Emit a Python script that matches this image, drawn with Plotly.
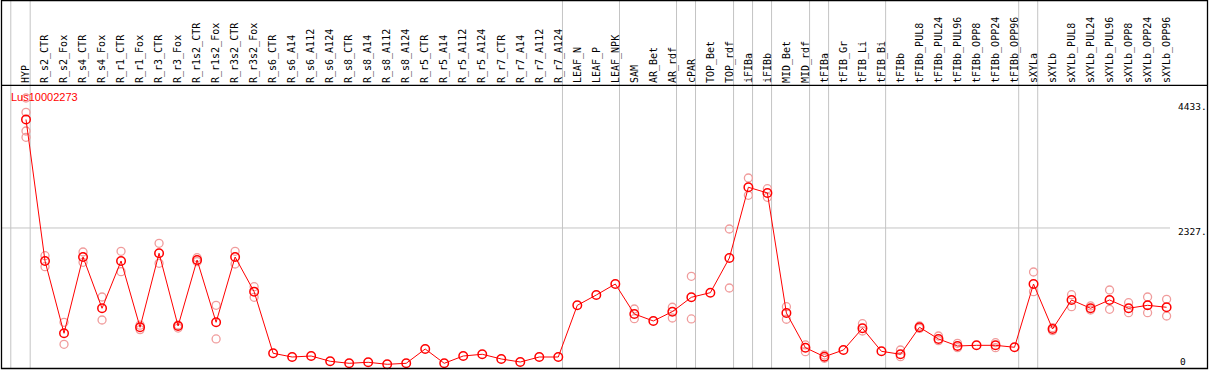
import plotly.graph_objects as go

categories = ["HYP", "R_s2_CTR", "R_s2_Fox", "R_s4_CTR", "R_s4_Fox", "R_r1_CTR", "R_r1_Fox",
              "R_r3_CTR", "R_r3_Fox", "R_r1s2_CTR", "R_r1s2_Fox", "R_r3s2_CTR", "R_r3s2_Fox",
              "R_s6_CTR", "R_s6_A14", "R_s6_A112", "R_s6_A124", "R_s8_CTR", "R_s8_A14", "R_s8_A112",
              "R_s8_A124", "R_r5_CTR", "R_r5_A14", "R_r5_A112", "R_r5_A124", "R_r7_CTR", "R_r7_A14",
              "R_r7_A112", "R_r7_A124", "LEAF_N", "LEAF_P", "LEAF_NPK", "SAM", "AR_Bet", "AR_rdf",
              "cPAR", "TOP_Bet", "TOP_rdf", "iFIBa", "iFIBb", "MID_Bet", "MID_rdf", "tFIBa",
              "tFIB_Gr", "tFIB_Li", "tFIB_Bi", "tFIBb", "tFIBb_PUL8", "tFIBb_PUL24", "tFIBb_PUL96",
              "tFIBb_OPP8", "tFIBb_OPP24", "tFIBb_OPP96", "sXYLa", "sXYLb", "sXYLb_PUL8",
              "sXYLb_PUL24", "sXYLb_PUL96", "sXYLb_OPP8", "sXYLb_OPP24", "sXYLb_OPP96"]

means = [4155, 1771, 553, 1838, 974, 1771, 654, 1901, 676, 1788, 738, 1838, 1254,
         216, 153, 170, 81, 47, 64, 30, 47, 288, 47, 170, 199, 120, 69, 153, 153,
         1024, 1198, 1383, 878, 760, 917, 1159, 1237, 1821,
         3013, 2917, 895, 310, 158, 271, 637, 249,
         199, 654, 457, 339, 350, 350, 317,
         1383, 625, 1114, 974, 1114, 974, 1024, 991]

rep1 = [4517, 1860, 738, 1922, 1164, 1934, 690, 2069, 692, 1826, 1024, 1934, 1338,
        None, None, None, None, None, None, None, None, None, None, None, None, None, None,
        None, None, None, None, None, 962, None, 991, 1513, None, 2310,
        3169, 2989, 1001, 356, 187, None, 714, None,
        271, 676, 507, 384, None, 394, None,
        1585, 647, 1203, 1013, 1282, 1068, 1164, 1125]

rep2 = [3855, 1675, 367, 1749, 777, 1591, 615, 1732, 641, 1759, 457, 1720, 1159,
        None, None, None, None, None, None, None, None, None, None, None, None, None, None,
        None, None, None, None, None, 799, None, 810, 794, None, 1316,
        2878, 2844, 789, 243, 131, None, 591, None,
        158, 634, 428, 310, None, 310, None,
        1254, 596, 1001, 945, 957, 900, 900, 844]

rep3 = [4276] + [None] * 60
rep4 = [3961] + [None] * 60

# group separators: drawn just after these category indices
separators_after = [-1, 0, 28, 31, 34, 35, 37, 38, 39, 41, 42, 45, 52, 53, 60]

y_ticks = [2327, 4433]
y_ticktext = ["2327.", "4433."]
gene = "Lus10002273"

W, H = 1209, 370
ML, MR, MT, MB = 2, 39, 85, 1
PW, PH = W - ML - MR, H - MT - MB


def px_x(q):
    return (q - ML) / PW


def px_y(p):
    return (H - MB - p) / PH


fig = go.Figure()

rep_style = dict(symbol="circle-open", size=8, color="#f09c9c", line=dict(width=1.3))
for reps in (rep1, rep2, rep3, rep4):
    fig.add_trace(go.Scatter(x=categories, y=reps, mode="markers", marker=rep_style,
                             hoverinfo="skip", showlegend=False, cliponaxis=False))

fig.add_trace(go.Scatter(x=categories, y=means, mode="lines+markers",
                         line=dict(color="#ff0000", width=1),
                         marker=dict(symbol="circle-open", size=8.5, color="#ff0000",
                                     line=dict(width=1.5)),
                         showlegend=False, cliponaxis=False))

fig.add_trace(go.Scatter(x=[categories[0]], y=[0], yaxis="y2", mode="markers",
                         marker=dict(opacity=0), hoverinfo="skip", showlegend=False))

shapes = []
grid_col = "#c4c4c4"
for s in separators_after:
    xpos = s + 0.22 if s >= 0 else -0.8
    shapes.append(dict(type="line", xref="x", yref="paper", x0=xpos, x1=xpos,
                       y0=0, y1=px_y(0.5), line=dict(color=grid_col, width=1), layer="below"))
shapes.append(dict(type="line", xref="paper", yref="y", x0=0, x1=1, y0=2327, y1=2327,
                   line=dict(color=grid_col, width=1), layer="below"))
# outer frame and header divider
shapes.append(dict(type="rect", xref="paper", yref="paper", x0=px_x(1.5), x1=px_x(1207.5),
                   y0=px_y(368.5), y1=px_y(0.5), line=dict(color="black", width=1.3)))
shapes.append(dict(type="line", xref="paper", yref="paper", x0=px_x(1.5), x1=px_x(1207.5),
                   y0=px_y(85.3), y1=px_y(85.3), line=dict(color="black", width=1.3)))

fig.update_layout(
    width=W, height=H,
    margin=dict(l=ML, r=MR, t=MT, b=MB, pad=0, autoexpand=False),
    paper_bgcolor="white", plot_bgcolor="white",
    shapes=shapes,
    xaxis=dict(type="category", categoryorder="array", categoryarray=categories,
               range=[-24 / 19.01, 1144 / 19.01], side="top", tickangle=-90,
               tickfont=dict(family="DejaVu Sans Mono", size=10, color="black"),
               showgrid=False, zeroline=False, showline=False, ticks="",
               ticklabelstandoff=1, automargin=False),
    yaxis=dict(range=[-49, 4736], side="right", tickvals=y_ticks, ticktext=y_ticktext,
               tickfont=dict(family="DejaVu Sans Mono", size=9.5, color="black"),
               showgrid=False, zeroline=False, showline=False, ticks="",
               ticklabelshift=4, ticklabelstandoff=7, automargin=False),
    yaxis2=dict(range=[-49, 4736], side="right", overlaying="y", tickvals=[0], ticktext=["0"],
                tickfont=dict(family="DejaVu Sans Mono", size=9.5, color="black"),
                showgrid=False, zeroline=False, showline=False, ticks="",
                ticklabelshift=-4, ticklabelstandoff=9, ticklabeloverflow="allow",
                automargin=False),
    annotations=[dict(text=gene, xref="paper", yref="paper", x=px_x(9), y=px_y(97),
                      xanchor="left", yanchor="middle", showarrow=False,
                      font=dict(family="Liberation Sans", size=11, color="#ff0000"))],
)

fig.write_html("out.html", config={"displayModeBar": False},
               post_script="document.body.style.margin='0px';"
                           "document.body.style.overflow='hidden';"
                           "document.documentElement.style.overflow='hidden';")
